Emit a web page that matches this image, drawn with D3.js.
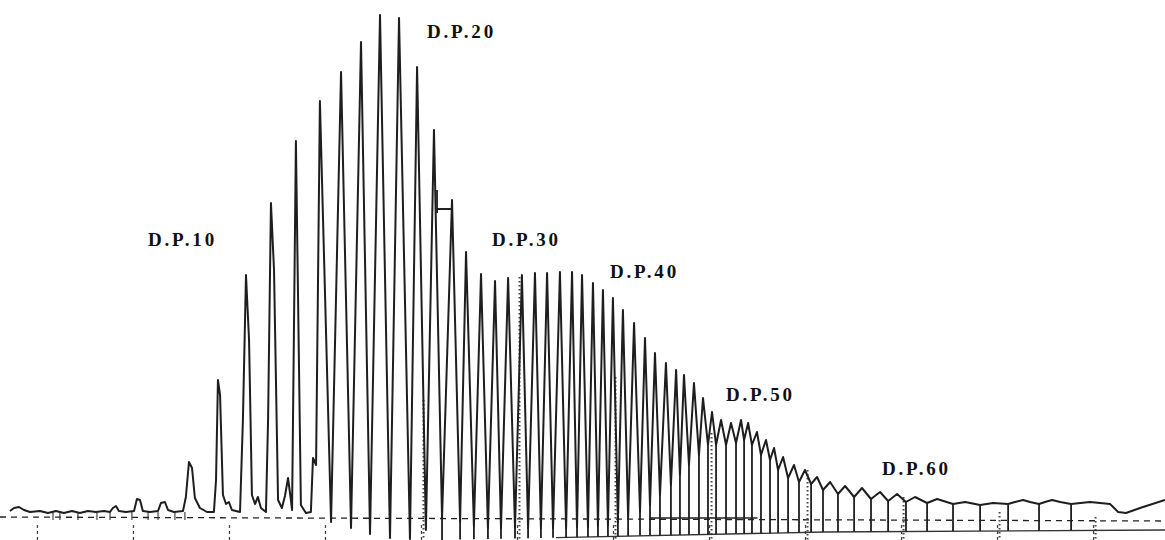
<!DOCTYPE html>
<html>
<head>
<meta charset="utf-8">
<script src="https://cdn.jsdelivr.net/npm/d3@7/dist/d3.min.js"></script>
<style>
  html, body { margin: 0; padding: 0; background: #fff; }
  svg { display: block; }
  .trace { fill: none; stroke: #1e1e1e; stroke-width: 2; stroke-linejoin: round; }
  .baseline { fill: none; stroke: #222; stroke-width: 1.3; stroke-dasharray: 6 5; }
  .baseline-solid { fill: none; stroke: #222; stroke-width: 1.4; }
  .floor { fill: none; stroke: #333; stroke-width: 1.3; }
  .drop { stroke: #1e1e1e; stroke-width: 1.8; }
  .tick { stroke: #444; stroke-width: 1.3; stroke-dasharray: 3 3; }
  .grid { stroke: #444; stroke-width: 2; stroke-dasharray: 1.5 2.5; }
  .marker { stroke: #333; stroke-width: 1.1; }
  .bracket { fill: none; stroke: #222; stroke-width: 1.8; }
  .dp-label { font-family: "Liberation Serif", "Times New Roman", serif; font-weight: bold; font-size: 19px; letter-spacing: 2.8px; fill: #111; }
</style>
</head>
<body>
<div id="chart"></div>
<script>
// retention time (min) and detector signal (mV)
const trace = [
  [-1.43, 1.2], [-1.22, 1.8], [-0.96, 2.0], [-0.70, 1.4], [-0.39, 1.0], [0.13, 1.2], [0.55, 0.8],
  [0.96, 1.2], [1.38, 0.8], [1.80, 1.2], [2.21, 0.8], [2.63, 1.2], [3.05, 1.0], [3.46, 1.2],
  [3.78, 1.0], [3.93, 1.8], [4.09, 2.2], [4.24, 1.2], [4.61, 1.0], [5.03, 1.2], [5.18, 3.6],
  [5.34, 3.4], [5.49, 1.2], [5.86, 1.0], [6.28, 1.2], [6.43, 2.8], [6.64, 3.0], [6.80, 1.4],
  [7.11, 1.0], [7.58, 1.2], [7.73, 4.0], [7.89, 11.0], [8.05, 9.8], [8.20, 3.8], [8.46, 1.8],
  [8.83, 1.0], [9.19, 1.0],
  [9.30, 7.4], [9.40, 27.4], [9.51, 24.4], [9.66, 4.4], [9.82, 2.6], [9.97, 3.0], [10.13, 1.4], [10.55, 1.0],
  [10.70, 19.4], [10.86, 48.4], [11.02, 35.4], [11.17, 4.4], [11.33, 2.6], [11.48, 4.0], [11.64, 1.8], [11.90, 1.0],
  [12.01, 19.4], [12.16, 62.8], [12.32, 49.4], [12.53, 3.4], [12.73, 1.8], [12.89, 4.2], [13.05, 7.8],
  [13.20, 3.4], [13.26, 1.4],
  [13.46, 75.2], [13.72, 2.4], [13.98, 0.8], [14.24, 1.0], [14.35, 11.8], [14.51, 10.4],
  [14.71, 83.2], [15.29, -1.0], [15.81, 89.0], [16.33, -2.2], [16.85, 95.0], [17.32, -3.4],
  [17.84, 100.4], [18.36, -4.2], [18.83, 99.8], [19.40, -4.4], [19.77, 90.0], [20.23, -2.6],
  [20.65, 77.4], [21.07, -0.2], [21.59, 63.4], [22.01, -1.0], [22.32, 53.0], [22.73, -1.8],
  [23.10, 48.6], [23.46, -2.2], [23.83, 47.2], [24.14, -2.2], [24.51, 47.8], [24.87, -2.2],
  [25.23, 48.4], [25.55, -2.2], [25.91, 48.8], [26.22, -2.2], [26.54, 48.8], [26.85, -2.2],
  [27.21, 49.0], [27.53, -2.2], [27.84, 49.0], [28.10, -2.0], [28.36, 48.4], [28.67, -2.0],
  [28.93, 46.8], [29.19, -1.8], [29.45, 45.4], [29.71, -1.6], [29.97, 43.8], [30.23, -1.0],
  [30.49, 41.4], [30.76, -0.2], [31.07, 38.8], [31.38, 1.0], [31.64, 35.8], [31.90, 2.4],
  [32.16, 32.8], [32.42, 4.4], [32.73, 30.8], [32.99, 6.4], [33.26, 29.4], [33.46, 8.4],
  [33.67, 28.4], [33.93, 10.4], [34.19, 26.8], [34.45, 12.4], [34.66, 23.8], [34.92, 14.4],
  [35.13, 21.0], [35.34, 14.4], [35.60, 19.4], [35.86, 14.4], [36.12, 18.8], [36.38, 14.8],
  [36.64, 19.4], [36.80, 15.4], [37.01, 18.8], [37.21, 14.4], [37.47, 17.0], [37.68, 12.4],
  [37.94, 15.4], [38.15, 11.4], [38.36, 13.8], [38.57, 9.4], [38.83, 12.0], [39.09, 7.8],
  [39.40, 10.4], [39.66, 7.0], [39.97, 9.4], [40.29, 6.6], [40.60, 8.0], [40.91, 5.4],
  [41.28, 7.0], [41.69, 4.6], [42.06, 6.2], [42.53, 4.0], [42.94, 5.8], [43.41, 3.6],
  [43.88, 5.0], [44.30, 3.2], [44.77, 4.6], [45.23, 3.0], [45.70, 4.0], [46.33, 2.8],
  [46.85, 3.6], [47.68, 2.6], [48.31, 3.0], [49.09, 2.4], [49.77, 2.8], [50.55, 2.6],
  [50.91, 3.0], [51.33, 3.4], [51.69, 3.0], [52.16, 2.6], [52.47, 3.0], [52.84, 3.4],
  [53.26, 3.0], [53.83, 2.6], [54.82, 3.0], [55.86, 2.6], [56.28, 1.0], [56.69, 0.8],
  [57.42, 1.8], [58.72, 3.4]
];

// degree of polymerisation labels, anchored at the left of the text baseline
const dpLabels = ['D.P.10', 'D.P.20', 'D.P.30', 'D.P.40', 'D.P.50', 'D.P.60'];
const dpTimes = [5.76, 20.29, 23.67, 29.82, 35.86, 43.98];
const dpLevels = [54.2, 95.8, 54.2, 47.8, 23.2, 8.4];

const tickTimes = [0, 5, 10, 15, 20, 25, 30, 35, 40, 45, 50, 55];
// dotted time marks run from the peak envelope down to the bottom
const gridTimes = [20, 25, 30, 35, 40, 45, 50, 55];
const gridTops = [23.4, 48.0, 28.0, 16.8, 9.4, 4.0, 1.0, 0.0];

// baseline that the integrator drew, and the line that the drop lines fall to
const baseTimes = [-1.95, 58.72];
const baseLevels = [0, -0.8];
const solidBaseTimes = [31.9, 37.5];
const solidBaseLevel = -0.2;
const floorTimes = [21, 41, 58.72];
const floorLevels = [-4.6, -3.0, -2.6];

// small integration marks on the noisy start of the run
const markerTimes = [0.81, 1.17, 2.11, 3.10, 3.78, 4.92, 5.76, 6.28, 7.16, 7.68];

// bracket drawn between the D.P.19 and D.P.20 peaks
const bracketTimes = [20.81, 21.59];
const bracketLevel = 61.6;
const bracketSpan = [65.4, 60.8];

class Chromatogram {
  constructor(opts) {
    Object.assign(this, opts);
    this.width = 1165;
    this.height = 540;
    this.init();
  }

  init() {
    this._setScales();
    this.appendElements();
    this.render();
  }

  _setScales() {
    this.x = d3.scaleLinear().domain([-1.95, 58.72]).range([0, this.width]);
    this.y = d3.scaleLinear().domain([-4.6, 101.4]).range([this.height, 10]);
    this.floor = d3.scaleLinear().domain(floorTimes).range(floorLevels);
    this.line = d3.line()
      .x((d) => this.x(d[0]))
      .y((d) => this.y(d[1]));
  }

  appendElements() {
    d3.select(this.element).html('');
    this.svg = d3.select(this.element)
      .append('svg')
      .attr('width', this.width)
      .attr('height', this.height);

    this.axisG = this.svg.append('g').attr('class', 'axis-g');
    this.plot = this.svg.append('g').attr('class', 'chart-g');
    this.lbls = this.svg.append('g').attr('class', 'lbls-g');
  }

  render() {
    let base = baseTimes.map((t, i) => [t, baseLevels[i]]);
    this.axisG.append('path').attr('class', 'baseline').attr('d', this.line(base));

    this.axisG.append('path')
      .attr('class', 'baseline-solid')
      .attr('d', this.line(solidBaseTimes.map((t) => [t, solidBaseLevel])));

    this.axisG.selectAll('line.tick')
      .data(tickTimes)
      .enter()
      .append('line')
      .attr('class', 'tick')
      .attr('x1', (d) => this.x(d))
      .attr('x2', (d) => this.x(d))
      .attr('y1', this.y(-1.6))
      .attr('y2', this.y(-4.6));

    this.axisG.selectAll('line.grid')
      .data(gridTimes)
      .enter()
      .append('line')
      .attr('class', 'grid')
      .attr('x1', (d) => this.x(d) + 2)
      .attr('x2', (d) => this.x(d) + 2)
      .attr('y1', (d, i) => this.y(gridTops[i]))
      .attr('y2', this.y(-4.6));

    let floorPts = [27, floorTimes[1], floorTimes[2]].map((t) => [t, this.floor(t)]);
    this.axisG.append('path').attr('class', 'floor').attr('d', this.line(floorPts));

    this.axisG.selectAll('line.marker')
      .data(markerTimes)
      .enter()
      .append('line')
      .attr('class', 'marker')
      .attr('x1', (d) => this.x(d))
      .attr('x2', (d) => this.x(d))
      .attr('y1', this.y(1.0))
      .attr('y2', this.y(-0.6));

    // drop lines from each valley of the later peaks down to the floor
    let valleys = trace.filter((d, i) => {
      if (i === 0 || i === trace.length - 1) return false;
      return d[0] > 21 && d[0] < 56 && d[1] < trace[i - 1][1] && d[1] <= trace[i + 1][1];
    });

    this.plot.selectAll('line.drop')
      .data(valleys)
      .enter()
      .append('line')
      .attr('class', 'drop')
      .attr('x1', (d) => this.x(d[0]))
      .attr('x2', (d) => this.x(d[0]))
      .attr('y1', (d) => this.y(d[1]))
      .attr('y2', (d) => this.y(this.floor(d[0])));

    this.plot.append('path').attr('class', 'trace').attr('d', this.line(trace));

    let bx0 = this.x(bracketTimes[0]);
    let bx1 = this.x(bracketTimes[1]);
    let by = this.y(bracketLevel);
    this.plot.append('path')
      .attr('class', 'bracket')
      .attr('d', `M${bx0},${this.y(bracketSpan[0])}V${this.y(bracketSpan[1])}M${bx0},${by}H${bx1}`);

    this.lbls.selectAll('text')
      .data(dpLabels)
      .enter()
      .append('text')
      .attr('class', 'dp-label')
      .attr('x', (d, i) => this.x(dpTimes[i]))
      .attr('y', (d, i) => this.y(dpLevels[i]))
      .text((d) => d);
  }
}

new Chromatogram({ element: document.getElementById('chart') });
</script>
</body>
</html>
